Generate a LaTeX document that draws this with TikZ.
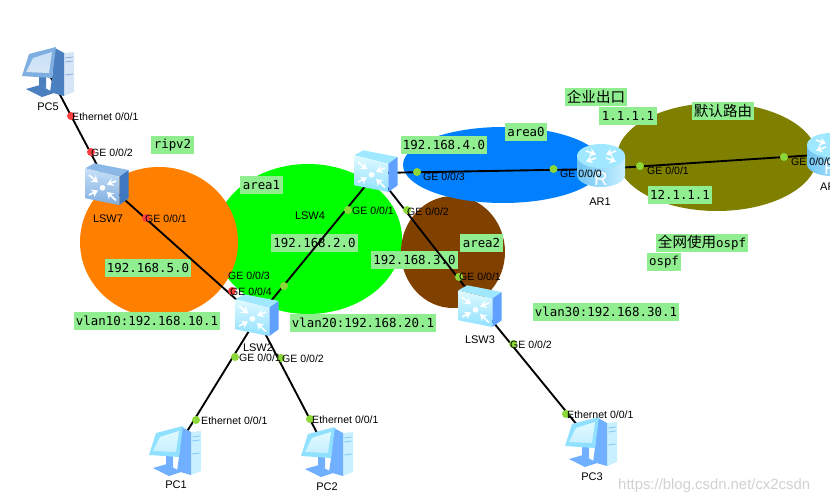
\documentclass[tikz,border=0pt]{standalone}
\usepackage{fontspec}
\setmainfont{Liberation Sans}
\setmonofont{DejaVu Sans Mono}
\newfontfamily\cjk{Noto Sans CJK SC}
\usetikzlibrary{positioning, arrows.meta, calc}

\definecolor{zoneorange}{HTML}{FF8000}
\definecolor{zonegreen}{HTML}{00FF00}
\definecolor{zonebrown}{HTML}{804000}
\definecolor{zoneblue}{HTML}{0080FF}
\definecolor{zoneolive}{HTML}{808000}
\definecolor{notegreen}{HTML}{90EE90}
\definecolor{portred}{HTML}{FF4040}
\definecolor{portgreen}{HTML}{8CD838}
% Icon colours, dark set
\definecolor{darklite}{HTML}{D6E6F6}
\definecolor{darkline}{HTML}{7FAAD8}
\definecolor{darkdeep}{HTML}{4A80C0}
\definecolor{darkface}{HTML}{7FAEE0}
\definecolor{darkglow}{HTML}{C8E0F8}
\definecolor{darktop}{HTML}{8CB8E8}
\definecolor{darkside}{HTML}{3E78C0}
% Icon colours, light set
\definecolor{litelite}{HTML}{C8F0FF}
\definecolor{liteline}{HTML}{80C8F8}
\definecolor{litedeep}{HTML}{70B0FF}
\definecolor{liteface}{HTML}{90E0FF}
\definecolor{liteglow}{HTML}{E0FAFF}
\definecolor{litetop}{HTML}{A0E8FF}
\definecolor{liteside}{HTML}{60A0FF}
\definecolor{routerbody}{HTML}{70C4F4}

\tikzset{
    devbox/.style={inner sep=0pt, minimum size=0pt},
    link/.style={line width=1.6pt, black},
    note/.style={fill=notegreen, font=\ttfamily\fontsize{10.6}{12}\selectfont, inner xsep=2pt, inner ysep=0pt, minimum height=0.53cm},
    cjknote/.style={note, font=\cjk\fontsize{12.4}{14}\selectfont},
    portlabel/.style={anchor=west, inner sep=0pt, font=\fontsize{9}{10}\selectfont},
    devlabel/.style={inner sep=0pt, font=\fontsize{9.4}{11}\selectfont},
    reddot/.style={circle, fill=portred, inner sep=0pt, minimum size=0.24cm},
    greendot/.style={circle, fill=portgreen, inner sep=0pt, minimum size=0.24cm},
    whitearrow/.style={white, line width=1.4pt, -{Stealth[length=5.5pt, width=7pt]}},
    pics/switchicon/.style={code={
        % Faces
        \fill[#1top] (-21.7,-15.7) -- (-12.7,-20.7) -- (21.7,-14) -- (12.3,-7.3) -- cycle;
        \fill[#1side] (12.3,-7.3) -- (21.7,-14) -- (21.7,14.3) -- (12.3,21) -- cycle;
        \path[top color=#1glow, bottom color=#1face] (-21.7,-15.7) -- (12.3,-7.3) -- (12.3,21) -- (-21.7,14.3) -- cycle;
        % Arrows
        \draw[whitearrow] (-18,-9) -- (-9,-1.5);
        \draw[whitearrow] (9,-3) -- (0,0.5);
        \draw[whitearrow] (-18,11) -- (-9,6.5);
        \draw[whitearrow] (9,16.5) -- (0,8);
        \fill[white] (-4.5,3.8) circle (2.8);
    }},
    pics/routericon/.style={code={
        % Body
        \path[left color=routerbody, right color=litelite] (-24,-9) -- (-24,10) arc[start angle=180, end angle=360, x radius=24, y radius=-12] -- (24,-9) -- cycle;
        \fill[litetop] (0,-9) ellipse [x radius=24, y radius=12];
        % Arrows
        \draw[whitearrow] (-15,-14) -- (-5,-10.5);
        \draw[whitearrow] (15,-14) -- (5,-10.5);
        \draw[whitearrow] (-5,-7) -- (-15,-3.5);
        \draw[whitearrow] (5,-7) -- (15,-3.5);
        \node[text=white, inner sep=0pt, font=\fontsize{16}{16}\selectfont] (routermark) at (0,14) {R};
    }},
    pics/pcicon/.style={code={
        % Tower
        \fill[#1lite] (16,-19) -- (26,-20) -- (26,20) -- (16,24) -- cycle;
        \draw[#1line, line width=0.6pt] (17,-14) -- (25,-15) (17,-10) -- (25,-11) (17,3) -- (25,2);
        \fill[#1deep] (7,-24) -- (16,-19) -- (16,24) -- (2,20) -- (4,6) -- cycle;
        % Stand
        \fill[#1deep] (-9,4) -- (-2,4) -- (-2,16) -- (-9,14) -- cycle;
        \fill[#1deep] (-22,17) -- (-8,13) -- (6,21) -- (-6,25) -- cycle;
        % Monitor
        \fill[#1face] (-19,-18) -- (8,-25) -- (4,6) -- (-26,4) -- cycle;
        \path[top color=#1glow, bottom color=#1lite] (-15,-14) -- (4,-20) -- (1,1) -- (-22,0) -- cycle;
    }}
}

\begin{document}
\begin{tikzpicture}[x=0.03cm, y=-0.03cm]
    \useasboundingbox (0,0) rectangle (830,504);
    \clip (0,0) rectangle (830,504);

    % Areas
    \fill[zonegreen] (308,239) ellipse [x radius=94, y radius=75];
    \fill[zoneorange] (159,242) ellipse [x radius=79, y radius=75];
    \fill[zonebrown] (453,252) ellipse [x radius=52, y radius=56];
    \fill[zoneblue] (503,165) ellipse [x radius=100, y radius=38];
    \fill[zoneolive] (717,157) ellipse [x radius=100, y radius=54];

    % Notes
    \node[note] (ripv2) at (172.5,145) {ripv2};
    \node[note] (area1) at (261.5,185) {area1};
    \node[note] (net4) at (444,145) {192.168.4.0};
    \node[note] (area0) at (526,132) {area0};
    \node[cjknote] (exitnote) at (596,97) {企业出口};
    \node[note] (ip1) at (628,116) {1.1.1.1};
    \node[cjknote] (routenote) at (723,111) {默认路由};
    \node[note] (ip12) at (680,195) {12.1.1.1};
    \node[note] (allospf) at (702,243) {{\cjk\fontsize{12.4}{14}\selectfont 全网使用}ospf};
    \node[note] (ospf) at (664,262) {ospf};
    \node[note] (net2) at (314.5,243) {192.168.2.0};
    \node[note] (net3) at (414.5,260) {192.168.3.0};
    \node[note] (area2) at (481.5,243) {area2};
    \node[note] (net5) at (148,268) {192.168.5.0};
    \node[note] (vlan10) at (147,321) {vlan10:192.168.10.1};
    \node[note] (vlan20) at (363,323) {vlan20:192.168.20.1};
    \node[note] (vlan30) at (606,312) {vlan30:192.168.30.1};

    % Devices
    \node[devbox] (PC5) at (48,72) {};
    \node[devbox] (LSW7) at (107,184) {};
    \node[devbox] (LSW2) at (257,318) {};
    \node[devbox] (LSW4) at (376,173) {};
    \node[devbox] (LSW3) at (480,306) {};
    \node[devbox] (AR1) at (601,169) {};
    \node[devbox] (AR2) at (831,154) {};
    \node[devbox] (PC1) at (175,451) {};
    \node[devbox] (PC2) at (327,452) {};
    \node[devbox] (PC3) at (591,442) {};

    % Links
    \draw[link] (PC5) -- (LSW7);
    \draw[link] (LSW7) -- (LSW2);
    \draw[link] (LSW2) -- (LSW4);
    \draw[link] (LSW4) -- (LSW3);
    \draw[link] (LSW4) -- (AR1);
    \draw[link] (AR1) -- (AR2);
    \draw[link] (LSW2) -- (PC1);
    \draw[link] (LSW2) -- (PC2);
    \draw[link] (LSW3) -- (PC3);

    % Port dots
    \node[reddot] (d1) at (71,116) {};
    \node[reddot] (d2) at (91,152) {};
    \node[reddot] (d3) at (146,218) {};
    \node[reddot] (d4) at (232,291) {};
    \node[greendot] (d5) at (284,286) {};
    \node[greendot] (d6) at (348,210) {};
    \node[greendot] (d7) at (407,210) {};
    \node[greendot] (d8) at (417,172) {};
    \node[greendot] (d9) at (553.5,169) {};
    \node[greendot] (d10) at (640,166) {};
    \node[greendot] (d11) at (784,157) {};
    \node[greendot] (d12) at (459,277) {};
    \node[greendot] (d13) at (513,344) {};
    \node[greendot] (d14) at (235,357) {};
    \node[greendot] (d15) at (281,358) {};
    \node[greendot] (d16) at (196,420) {};
    \node[greendot] (d17) at (310,419) {};
    \node[greendot] (d18) at (566,414) {};

    % Icons
    \pic at (PC5) {pcicon=dark};
    \pic at (PC1) {pcicon=lite};
    \pic at (PC2) {pcicon=lite};
    \pic at (PC3) {pcicon=lite};
    \pic at (107,184) {switchicon=dark};
    \pic at (257,315) {switchicon=lite};
    \pic at (376,171) {switchicon=lite};
    \pic at (480,306) {switchicon=lite};
    \pic (iconAR1) at (601,165) {routericon};
    \pic (iconAR2) at (831,154) {routericon};

    % Device names
    \node[devlabel] (namePC5) at (48,107) {PC5};
    \node[devlabel] (nameLSW7) at (108,219) {LSW7};
    \node[devlabel] (nameLSW4) at (310,216) {LSW4};
    \node[devlabel] (nameLSW2) at (258,348) {LSW2};
    \node[devlabel] (nameLSW3) at (480,340) {LSW3};
    \node[devlabel] (nameAR1) at (600,202) {AR1};
    \node[devlabel, anchor=west] (nameAR2) at (820,187) {AR2};
    \node[devlabel] (namePC1) at (176,485) {PC1};
    \node[devlabel] (namePC2) at (327,487) {PC2};
    \node[devlabel] (namePC3) at (592,477) {PC3};

    % Port labels
    \node[portlabel] (p1) at (72,117) {Ethernet 0/0/1};
    \node[portlabel] (p2) at (91,153) {GE 0/0/2};
    \node[portlabel] (p3) at (145,219) {GE 0/0/1};
    \node[portlabel] (p4) at (228,276) {GE 0/0/3};
    \node[portlabel] (p5) at (230,292) {GE 0/0/4};
    \node[portlabel] (p6) at (352,211) {GE 0/0/1};
    \node[portlabel] (p7) at (407,212) {GE 0/0/2};
    \node[portlabel] (p8) at (423,177) {GE 0/0/3};
    \node[portlabel] (p9) at (560,174) {GE 0/0/0};
    \node[portlabel] (p10) at (647,171) {GE 0/0/1};
    \node[portlabel] (p11) at (791,162) {GE 0/0/0};
    \node[portlabel] (p12) at (459,277) {GE 0/0/1};
    \node[portlabel] (p13) at (510,345) {GE 0/0/2};
    \node[portlabel] (p14) at (239,358) {GE 0/0/1};
    \node[portlabel] (p15) at (282,359) {GE 0/0/2};
    \node[portlabel] (p16) at (201,421) {Ethernet 0/0/1};
    \node[portlabel] (p17) at (312,420) {Ethernet 0/0/1};
    \node[portlabel] (p18) at (567,415) {Ethernet 0/0/1};

    % Watermark
    \node[anchor=west, inner sep=0pt, text=black!18, font=\fontsize{12.7}{14}\selectfont] (mark) at (618,486) {https://blog.csdn.net/cx2csdn};
\end{tikzpicture}
\end{document}
